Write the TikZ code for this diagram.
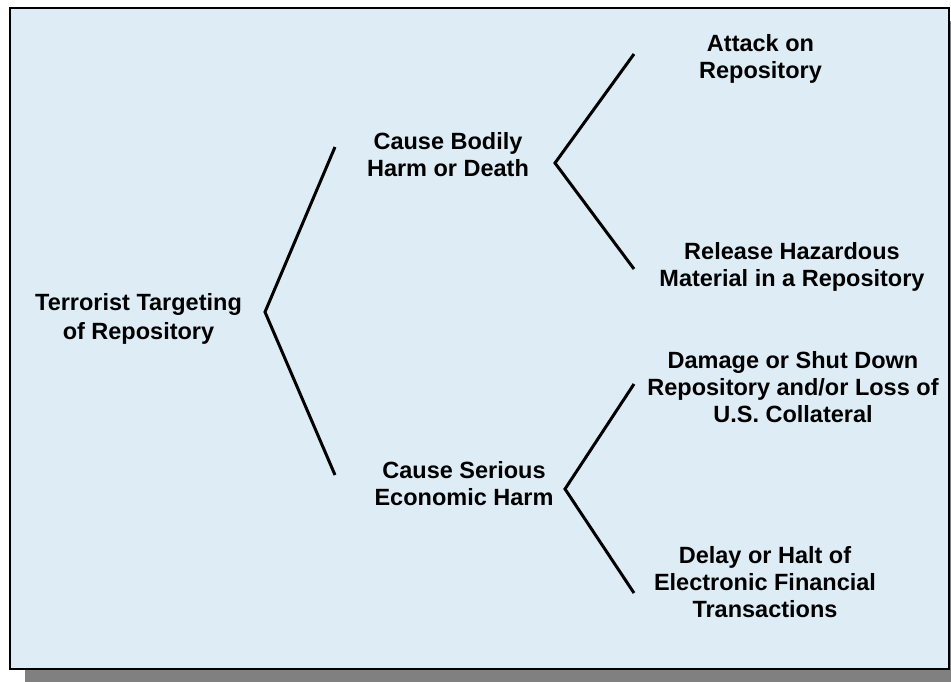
\documentclass[tikz,border=0pt]{standalone}
\usepackage{fontspec}
\setmainfont{Liberation Sans}
\definecolor{panelblue}{RGB}{222,237,245}
\definecolor{shadowgray}{RGB}{128,128,128}
\begin{document}
\begin{tikzpicture}[x=1pt, y=-1pt,
            panel/.style={draw=black, line width=2.5pt, fill=panelblue},
            panel shadow/.style={fill=shadowgray, draw=none},
            item/.style={anchor=north, align=center, inner sep=0pt, font=\fontsize{23.5}{27}\selectfont\bfseries, execute at begin node=\strut},
            fork/.style={line width=3pt, line join=miter}
    ]
        \useasboundingbox (0,0) rectangle (951,681);
        % Panel
        \fill[panel shadow] (25,21) rectangle (963,684);
        \draw[panel] (10,8) rectangle (949,669);

        % Root
        \node[item] (root) at (138.5,293) {Terrorist Targeting\\[2pt]of Repository};

        % Harms
        \node[item] (bodily) at (448,132) {Cause Bodily\\Harm or Death};
        \node[item] (economic) at (464,461) {Cause Serious\\Economic Harm};

        % Outcomes
        \node[item] (attack) at (760.5,34) {Attack on\\Repository};
        \node[item] (release) at (792,242) {Release Hazardous\\Material in a Repository};
        \node[item] (damage) at (793,351) {Damage or Shut Down\\Repository and/or Loss of\\U.S. Collateral};
        \node[item] (delay) at (765,546) {Delay or Halt of\\Electronic Financial\\Transactions};

        % Fork points
        \coordinate (root fork) at (265,312);
        \coordinate (bodily tip) at (335,147);
        \coordinate (economic tip) at (335,475);
        \coordinate (bodily fork) at (555,163);
        \coordinate (attack tip) at (634,54);
        \coordinate (release tip) at (634,269);
        \coordinate (economic fork) at (565,489);
        \coordinate (damage tip) at (634,384);
        \coordinate (delay tip) at (634,593);

        % Forks
        \draw[fork] (bodily tip) -- (root fork) -- (economic tip);
        \draw[fork] (attack tip) -- (bodily fork) -- (release tip);
        \draw[fork] (damage tip) -- (economic fork) -- (delay tip);

    \end{tikzpicture}
\end{document}
